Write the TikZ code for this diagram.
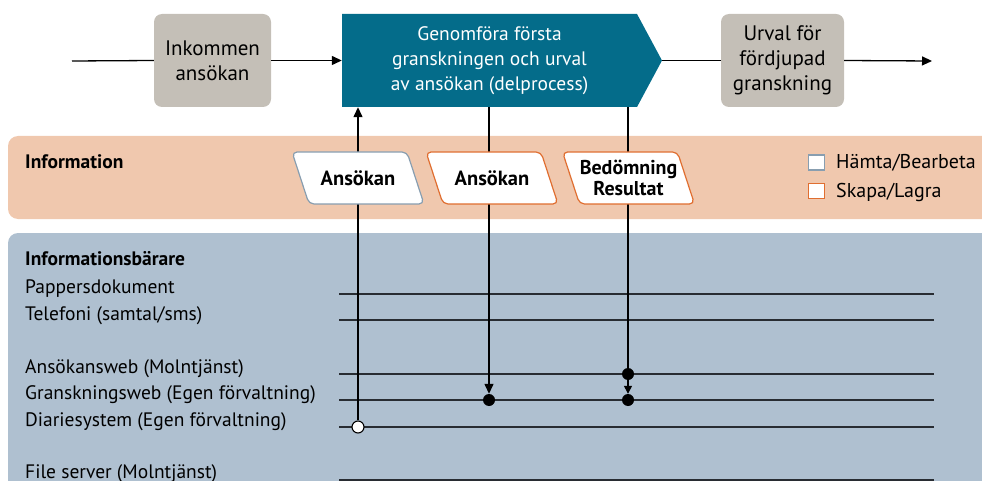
\documentclass[tikz,border=0pt]{standalone}
\usepackage{fontspec}
\setmainfont{PT Sans}
\usetikzlibrary{arrows.meta,calc}
\definecolor{teal1}{RGB}{4,108,138}
\definecolor{grayb}{RGB}{196,191,183}
\definecolor{orangebg}{RGB}{240,200,174}
\definecolor{bluebg}{RGB}{175,192,208}
\definecolor{hamta}{RGB}{136,158,176}
\definecolor{skapa}{RGB}{224,110,48}
\definecolor{lineg}{RGB}{40,44,50}
\tikzset{
  graybox/.style={fill=grayb,rounded corners=8pt,minimum width=117pt,minimum height=93pt,align=center,font=\fontsize{21}{25}\selectfont,inner sep=0pt},
  paraframe/.style={fill=white,line width=1.2pt,rounded corners=5pt},
  paratext/.style={align=center,font=\bfseries\fontsize{20.5}{21}\selectfont,inner sep=0pt,minimum width=115pt,minimum height=52pt},
  flow/.style={line width=1.3pt,-{Triangle[length=10pt,width=9pt]}},
  plain/.style={line width=1.3pt},
  carrier/.style={line width=1.1pt,draw=lineg},
  dot/.style={circle,fill=black,minimum size=12pt,inner sep=0pt},
  odot/.style={circle,fill=white,draw=black,line width=1.1pt,minimum size=12pt,inner sep=0pt},
  lbl/.style={anchor=base west,inner sep=0pt,font=\fontsize{19.5}{24}\selectfont},
  hdr/.style={anchor=base west,inner sep=0pt,font=\bfseries\fontsize{19.5}{24}\selectfont},
  legbox/.style={draw,line width=1.2pt,fill=white,minimum width=16pt,minimum height=15pt,inner sep=0pt}
}
\newcommand{\paraat}[2]{% center, colour
  \draw[paraframe,draw=#2] ($(#1)+(-66,-26)$) -- ($(#1)+(49,-26)$) -- ($(#1)+(66,26)$) -- ($(#1)+(-49,26)$) -- cycle;}
\begin{document}
\begin{tikzpicture}[x=1pt,y=-1pt]
\useasboundingbox (0,0) rectangle (982,481);
\clip (0,0) rectangle (982,481);
% bands
\fill[orangebg,rounded corners=10pt] (8,136) rectangle (1000,219);
\fill[bluebg,rounded corners=10pt] (8,233) rectangle (1000,520);
% top flow
\coordinate (start) at (72,61);
\coordinate (finish) at (932,61);
\node[graybox] (ink) at (212.5,60.5) {Inkommen\\ansökan};
\fill[teal1] (342,14) -- (637,14) -- (662,60.5) -- (637,107) -- (342,107) -- cycle;
\node[minimum width=295pt,minimum height=93pt,inner sep=0pt,text=white,align=center,font=\fontsize{19.5}{25}\selectfont] (main) at (489.5,60.5) {Genomföra första\\granskningen och urval\\av ansökan (delprocess)};
\coordinate (tip) at (662,60.5);
\node[graybox,minimum width=123pt] (urval) at (782.5,60.5) {Urval för\\fördjupad\\granskning};
\draw[plain] (start) -- (ink.west);
\draw[flow] (ink.east) -- (main.west);
\draw[plain] (tip) -- (urval.west);
\draw[flow] (urval.east) -- (finish);
% labels
\node[hdr] (info) at (25,169) {Information};
\node[hdr] (ib) at (25,265) {Informationsbärare};
\node[lbl] (t1) at (25,293) {Pappersdokument};
\node[lbl] (t2) at (25,320) {Telefoni (samtal/sms)};
\node[lbl] (t3) at (25,373) {Ansökansweb (Molntjänst)};
\node[lbl] (t4) at (25,399) {Granskningsweb (Egen förvaltning)};
\node[lbl] (t5) at (25,426) {Diariesystem (Egen förvaltning)};
\node[lbl] (t6) at (25,478) {File server (Molntjänst)};
% carrier lines
\foreach \n/\y in {1/294,2/320,3/374,4/400,5/427,6/480}{
  \coordinate (l\n a) at (339,\y);
  \coordinate (l\n b) at (934,\y);
  \draw[carrier] (l\n a) -- (l\n b);
}
% dots
\node[odot] (o1) at (358,427) {};
\node[dot] (d1) at (489,400) {};
\node[dot] (d2) at (628,374) {};
\node[dot] (d3) at (628,400) {};
% vertical connectors
\draw[flow] (o1.north) -- (main.south -| o1);
\draw[flow] (main.south -| d1) -- (d1.north);
\draw[plain] (main.south -| d2) -- (d2.center);
\draw[flow,-{Triangle[length=8pt,width=8pt]}] (d2.south) -- (d3.north);
% information parallelograms
\coordinate (c1) at (358,178);
\coordinate (c2) at (492,178);
\coordinate (c3) at (628.5,178);
\paraat{c1}{hamta}
\paraat{c2}{skapa}
\paraat{c3}{skapa}
\node[paratext] (p1) at (c1) {Ansökan};
\node[paratext] (p2) at (c2) {Ansökan};
\node[paratext,font=\bfseries\fontsize{20}{21}\selectfont] (p3) at (c3) {Bedömning\\Resultat};
% legend
\node[legbox,draw=hamta] (lg1) at (816.5,162.5) {};
\node[legbox,draw=skapa] (lg2) at (816.5,191) {};
\node[lbl,font=\fontsize{20}{24}\selectfont] (lt1) at (836,169) {Hämta/Bearbeta};
\node[lbl,font=\fontsize{20}{24}\selectfont] (lt2) at (836,198) {Skapa/Lagra};
\end{tikzpicture}
\end{document}
